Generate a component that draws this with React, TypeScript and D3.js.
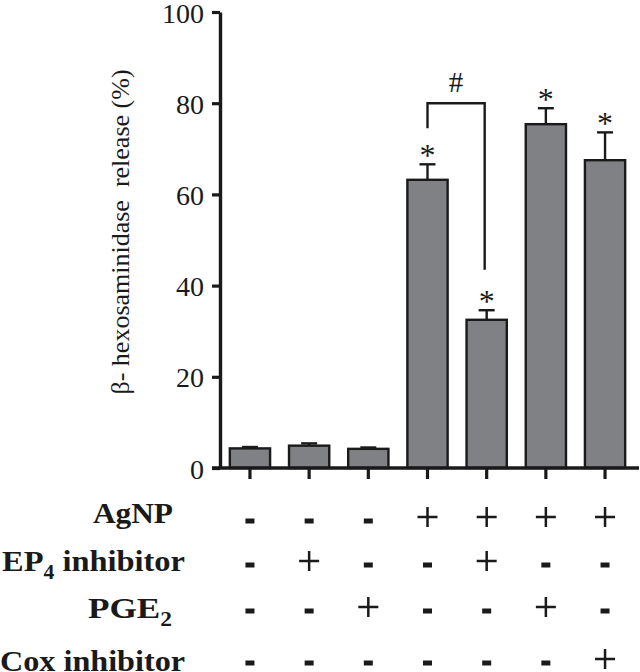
import { useEffect, useRef } from 'react'
import * as d3 from 'd3'

// bar values (%) and error bar tops
const groups = ['g1', 'g2', 'g3', 'g4', 'g5', 'g6', 'g7']
const means = [4.3, 4.9, 4.2, 63.2, 32.5, 75.4, 67.5]
const errors = [0.3, 0.5, 0.3, 3.4, 2.1, 3.5, 6.1]
const starred = [false, false, false, true, true, true, true]
const yTicks = [0, 20, 40, 60, 80, 100]

const rowLabels = ['AgNP', 'EP', 'PGE', 'Cox inhibitor']
const rowSubs = ['', '4', '2', '']
const rowTails = ['', ' inhibitor', '', '']
const treatments = [
  ['-', '-', '-', '+', '+', '+', '+'],
  ['-', '+', '-', '-', '+', '-', '-'],
  ['-', '-', '+', '-', '-', '+', '-'],
  ['-', '-', '-', '-', '-', '-', '+'],
]

const W = 640
const H = 672
const serif = '"Liberation Serif", "Times New Roman", serif'
const ink = '#1a1a1a'

// label layout: right edge, width, baseline; symbol row centres
const labelRight = [173, 185, 172, 185]
const labelWidth = [80, 183, 84, 185]
const labelBase = [523, 571, 618, 671]
const symbolMid = [519, 563, 609, 661]

const App = () => {
  const ref = useRef<SVGSVGElement>(null)

  useEffect(() => {
    if (!ref.current) return
    const svg = d3.select(ref.current)
    svg.selectAll('*').remove()

    const x = d3.scaleBand().domain(groups).range([218, 637]).paddingInner(0.32).paddingOuter(0.2)
    const y = d3.scaleLinear().domain([0, 100]).range([468, 12])
    const cx = (i: number) => (x(groups[i]) as number) + x.bandwidth() / 2

    // bars
    svg.append('g')
      .selectAll('rect')
      .data(means)
      .enter()
      .append('rect')
      .attr('x', (_, i) => x(groups[i]) as number)
      .attr('y', (d) => y(d))
      .attr('width', x.bandwidth())
      .attr('height', (d) => y(0) - y(d))
      .attr('fill', '#808184')
      .attr('stroke', ink)
      .attr('stroke-width', 2.4)

    // error bars (upper only)
    const eg = svg.append('g').attr('stroke', ink).attr('stroke-width', 2.4)
    means.forEach((m, i) => {
      eg.append('line').attr('x1', cx(i)).attr('x2', cx(i)).attr('y1', y(m)).attr('y2', y(m + errors[i]))
      eg.append('line').attr('x1', cx(i) - 8).attr('x2', cx(i) + 8).attr('y1', y(m + errors[i])).attr('y2', y(m + errors[i]))
    })

    // significance stars
    means.forEach((m, i) => {
      if (!starred[i]) return
      svg.append('text')
        .attr('x', cx(i))
        .attr('y', y(m + errors[i]) + 2)
        .attr('text-anchor', 'middle')
        .style('font-family', serif)
        .style('font-size', '32px')
        .style('fill', ink)
        .text('*')
    })

    // bracket between bar 4 and bar 5
    const bx1 = cx(3)
    const bx2 = cx(4) - 2
    svg.append('path')
      .attr('d', `M${bx1},${y(74.5)}V${y(80)}H${bx2}V${y(43.5)}`)
      .attr('fill', 'none')
      .attr('stroke', ink)
      .attr('stroke-width', 2.4)
    svg.append('text')
      .attr('x', (bx1 + bx2) / 2)
      .attr('y', 92)
      .attr('text-anchor', 'middle')
      .style('font-family', serif)
      .style('font-size', '29px')
      .style('fill', ink)
      .text('#')

    // y axis
    const yAxis = svg.append('g')
      .attr('transform', 'translate(220,0)')
      .call(d3.axisLeft(y).tickValues(yTicks).tickSize(8).tickPadding(8).tickSizeOuter(0))
    yAxis.select('.domain').attr('stroke', ink).attr('stroke-width', 3.4)
    yAxis.selectAll('line').attr('stroke', ink).attr('stroke-width', 3.2)
    yAxis.selectAll('text')
      .attr('dy', '0.36em')
      .style('font-family', serif)
      .style('font-size', '28px')
      .style('fill', ink)

    // x axis baseline with ticks at bar centers
    svg.append('line')
      .attr('x1', 212).attr('x2', 639).attr('y1', y(0)).attr('y2', y(0))
      .attr('stroke', ink).attr('stroke-width', 3.4)
    groups.forEach((_, i) => {
      svg.append('line')
        .attr('x1', cx(i)).attr('x2', cx(i)).attr('y1', y(0)).attr('y2', y(0) + 11)
        .attr('stroke', ink).attr('stroke-width', 3.2)
    })

    // y axis title
    svg.append('text')
      .attr('transform', `translate(129,232) rotate(-90)`)
      .attr('text-anchor', 'middle')
      .style('font-family', serif)
      .style('font-size', '26px')
      .style('fill', ink)
      .style('white-space', 'pre')
      .text('β- hexosaminidase  release (%)')

    // treatment table
    rowLabels.forEach((lab, r) => {
      const t = svg.append('text')
        .attr('x', labelRight[r])
        .attr('y', labelBase[r])
        .attr('text-anchor', 'end')
        .attr('textLength', labelWidth[r])
        .attr('lengthAdjust', 'spacingAndGlyphs')
        .style('font-family', serif)
        .style('font-weight', 'bold')
        .style('font-size', '30px')
        .style('fill', ink)
      t.append('tspan').text(lab)
      if (rowSubs[r]) {
        t.append('tspan').attr('dy', 8).style('font-size', '20px').text(rowSubs[r])
        if (rowTails[r]) t.append('tspan').attr('dy', -8).text(rowTails[r])
      }
      treatments[r].forEach((s, i) => {
        const c = symbolMid[r]
        if (s === '+') {
          svg.append('path')
            .attr('d', `M${cx(i) - 10},${c - 2}H${cx(i) + 10}M${cx(i)},${c - 12}V${c + 8}`)
            .attr('stroke', ink)
            .attr('stroke-width', 2.5)
        } else {
          svg.append('rect')
            .attr('x', cx(i) - 4.5)
            .attr('y', c - 0.5)
            .attr('width', 9)
            .attr('height', 5)
            .attr('fill', ink)
        }
      })
    })
  }, [])

  return <svg ref={ref} width={W} height={H} style={{ display: 'block', position: 'absolute', left: 0, top: 0, background: '#fff' }} />
}

export default App
